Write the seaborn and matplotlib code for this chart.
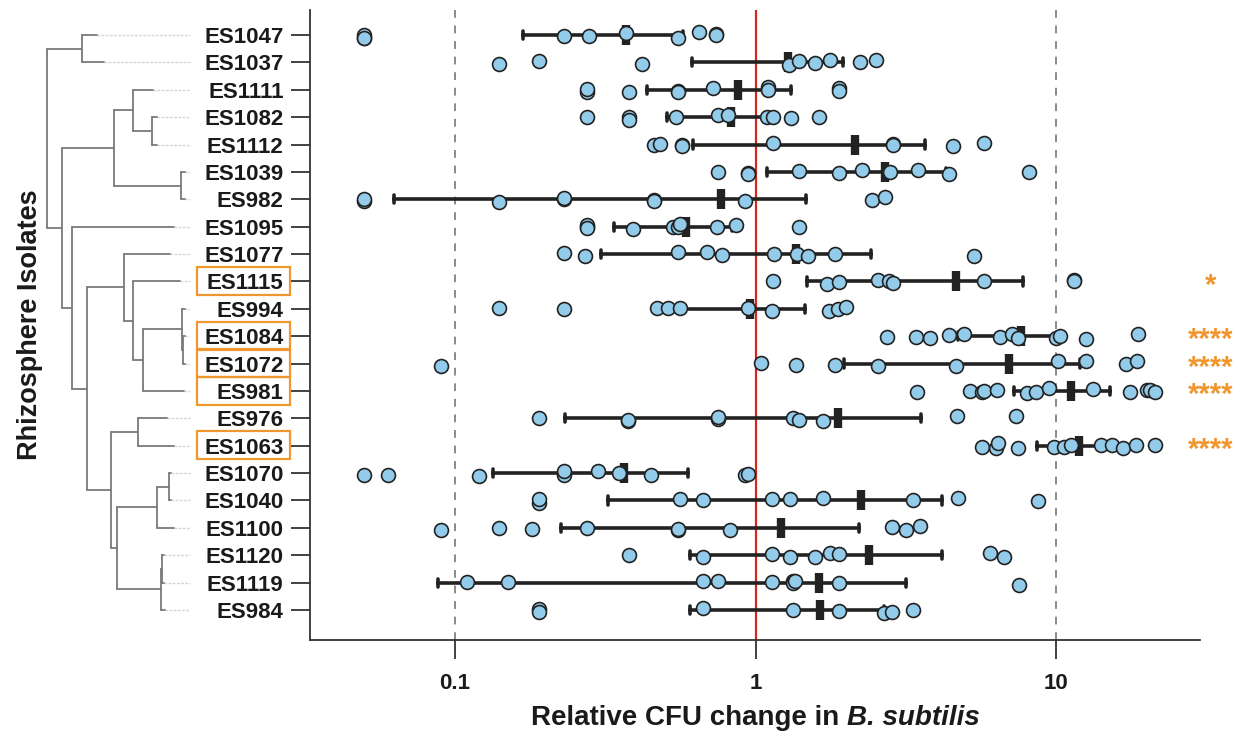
import numpy as np
import pandas as pd
import seaborn as sns
import matplotlib.pyplot as plt
from matplotlib import transforms
from matplotlib.patches import Rectangle
from matplotlib.ticker import FixedLocator, NullLocator

# isolates, top to bottom (dendrogram leaf order)
isolates = ["ES1047", "ES1037", "ES1111", "ES1082", "ES1112", "ES1039", "ES982",
            "ES1095", "ES1077", "ES1115", "ES994", "ES1084", "ES1072", "ES981",
            "ES976", "ES1063", "ES1070", "ES1040", "ES1100", "ES1120", "ES1119", "ES984"]

# relative CFU change of B. subtilis, one list per isolate
es1047 = [0.05, 0.05, 0.05, 0.23, 0.28, 0.37, 0.55, 0.65, 0.74, 0.74]
es1037 = [0.14, 0.19, 0.42, 1.29, 1.39, 1.58, 1.77, 2.23, 2.51]
es1111 = [0.275, 0.275, 0.38, 0.55, 0.55, 0.72, 1.1, 1.1, 1.89, 1.89]
es1082 = [0.275, 0.38, 0.38, 0.545, 0.75, 0.81, 1.09, 1.14, 1.31, 1.63]
es1112 = [0.46, 0.48, 0.57, 0.57, 1.14, 2.87, 2.87, 4.52, 5.75]
es1039 = [0.75, 0.94, 0.94, 1.39, 1.89, 2.26, 2.8, 3.47, 4.38, 8.1]
es982 = [0.05, 0.05, 0.14, 0.23, 0.23, 0.46, 0.46, 0.92, 2.44, 2.7]
es1095 = [0.275, 0.275, 0.275, 0.39, 0.53, 0.55, 0.56, 0.745, 0.86, 1.39]
es1077 = [0.23, 0.27, 0.55, 0.69, 0.77, 1.15, 1.37, 1.49, 1.83, 5.31]
es1115 = [1.14, 1.72, 1.89, 2.56, 2.77, 2.87, 5.75, 11.46, 11.46]
es994 = [0.14, 0.23, 0.47, 0.51, 0.56, 0.94, 1.13, 1.75, 1.88, 1.99]
es1084 = [2.74, 3.41, 3.81, 4.38, 4.93, 6.47, 7.09, 7.45, 10.0, 10.27, 12.54, 18.66]
es1072 = [0.09, 1.04, 1.36, 1.83, 2.55, 4.62, 10.13, 12.54, 17.09, 18.5]
es981 = [3.45, 5.17, 5.67, 5.75, 6.34, 7.99, 8.58, 9.45, 13.27, 17.5, 19.99, 20.5, 21.2]
es976 = [0.19, 0.377, 0.377, 0.752, 0.752, 1.33, 1.39, 1.67, 4.67, 7.33]
es1063 = [5.64, 6.3, 6.41, 7.45, 9.8, 10.6, 11.2, 14.1, 15.3, 16.6, 18.4, 21.2]
es1070 = [0.05, 0.06, 0.12, 0.23, 0.23, 0.30, 0.35, 0.45, 0.92, 0.94]
es1040 = [0.19, 0.19, 0.56, 0.67, 1.13, 1.30, 1.67, 3.34, 4.71, 8.69]
es1100 = [0.09, 0.14, 0.18, 0.275, 0.55, 0.55, 0.82, 2.83, 3.16, 3.52]
es1120 = [0.38, 0.67, 1.13, 1.30, 1.58, 1.76, 1.89, 6.01, 6.69]
es1119 = [0.11, 0.15, 0.67, 0.75, 1.13, 1.33, 1.33, 1.35, 1.89, 7.52]
es984 = [0.19, 0.19, 0.67, 1.33, 1.89, 2.67, 2.83, 3.34]

all_values = [es1047, es1037, es1111, es1082, es1112, es1039, es982, es1095, es1077,
              es1115, es994, es1084, es1072, es981, es976, es1063, es1070, es1040,
              es1100, es1120, es1119, es984]

# significance marks and highlighted isolates
stars = {"ES1115": "*", "ES1084": "****", "ES1072": "****", "ES981": "****", "ES1063": "****"}
boxed = ["ES1115", "ES1084", "ES1072", "ES981", "ES1063"]

# dendrogram: ("node", depth, children) or (leaf, tip depth)
tree = ("node", 0, [
    ("node", 35, [("ES1047", 50), ("ES1037", 57)]),
    ("node", 15, [
        ("node", 67, [
            ("node", 86, [("ES1111", 106),
                          ("node", 105, [("ES1082", 110), ("ES1112", 110)])]),
            ("node", 134, [("ES1039", 138), ("ES982", 138)]),
        ]),
        ("node", 25, [
            ("ES1095", 127),
            ("node", 40, [
                ("node", 77, [
                    ("ES1077", 123),
                    ("node", 86, [
                        ("ES1115", 133),
                        ("node", 96, [
                            ("node", 135, [("ES994", 138),
                                           ("node", 136, [("ES1084", 138), ("ES1072", 138)])]),
                            ("ES981", 137),
                        ]),
                    ]),
                ]),
                ("node", 64, [
                    ("node", 91, [("ES976", 120), ("ES1063", 127)]),
                    ("node", 70, [
                        ("node", 110, [("node", 122, [("ES1070", 124), ("ES1040", 124)]),
                                       ("ES1100", 127)]),
                        ("node", 114, [("node", 115, [("ES1120", 117), ("ES1119", 117)]),
                                       ("ES984", 118)]),
                    ]),
                ]),
            ]),
        ]),
    ]),
])

df = pd.DataFrame({
    "isolate": [iso for iso, vals in zip(isolates, all_values) for _ in vals],
    "cfu": [v for vals in all_values for v in vals],
})

T975 = {6: 2.447, 7: 2.365, 8: 2.306, 9: 2.262, 10: 2.228, 11: 2.201, 12: 2.179, 13: 2.160}


def t_ci(x):
    x = np.asarray(x, dtype=float)
    m = x.mean()
    half = T975[len(x) - 1] * x.std(ddof=1) / np.sqrt(len(x))
    return m - half, m + half


sns.set_style("ticks")
plt.rcParams["font.family"] = ["Liberation Sans", "DejaVu Sans"]

ORANGE = "#F0962E"
W, H = 1248, 733
fig = plt.figure(figsize=(W / 100, H / 100), dpi=100)
ax = fig.add_axes([310 / W, 93 / H, 890 / W, 630 / H])
ax_tree = fig.add_axes([0, 93 / H, 310 / W, 630 / H])

np.random.seed(4)
sns.stripplot(data=df, x="cfu", y="isolate", order=isolates, ax=ax, jitter=0.1,
              size=10, color="#93CCEA", edgecolor="#222222", linewidth=1.2)
sns.pointplot(data=df, x="cfu", y="isolate", order=isolates, ax=ax,
              estimator="mean", errorbar=t_ci, color="#222222",
              markers="|", linestyles="none", markersize=14, markeredgewidth=6,
              capsize=0.3, err_kws={"linewidth": 2.6})

ax.axvline(1, color="#D9261C", lw=1.6, zorder=0.5)
for v in (0.1, 10):
    ax.axvline(v, color="#8a8a8a", lw=1.4, ls=(0, (4, 4)), zorder=0.5)

ax.set_xscale("log")
ax.set_xlim(0.033, 30)
row_px = 575 / 21
ax.set_ylim(21 + 30 / row_px, -25 / row_px)
ax.xaxis.set_major_locator(FixedLocator([0.1, 1, 10]))
ax.xaxis.set_minor_locator(NullLocator())
ax.set_xticklabels(["0.1", "1", "10"])
ax.set_xlabel("")
ax.set_ylabel("")
sns.despine(ax=ax)
for s in ("left", "bottom"):
    ax.spines[s].set_color("#333333")
    ax.spines[s].set_linewidth(1.3)
ax.tick_params(axis="both", length=14, width=1.3, color="#333333")
ax.tick_params(axis="y", pad=5, labelsize=16)
ax.tick_params(axis="x", pad=10, labelsize=16)
for lab in ax.get_xticklabels() + ax.get_yticklabels():
    lab.set_fontweight("bold")
    lab.set_color("#1a1a1a")

# highlight boxes and significance stars
fig_y = transforms.blended_transform_factory(fig.transFigure, ax.transData)
for iso in boxed:
    i = isolates.index(iso)
    ax.add_patch(Rectangle((197 / W, i - 0.52), 93 / W, 1.02, transform=fig_y,
                           fill=False, ec=ORANGE, lw=1.6, clip_on=False))
for iso, s in stars.items():
    ax.text(1211 / W, isolates.index(iso) + 0.15, s, transform=fig_y, ha="center",
            va="center", fontsize=21, fontweight="bold", color=ORANGE)


# dendrogram
def draw(node, parent_depth):
    if len(node) == 3:
        _, depth, children = node
        ys = [draw(c, depth) for c in children]
        ax_tree.plot([depth, depth], [min(ys), max(ys)], color="#7a7a7a", lw=1.3)
        y = (min(ys) + max(ys)) / 2
    else:
        name, depth = node
        y = isolates.index(name)
        ax_tree.plot([depth, 143], [y, y], color="#d5d5d5", lw=1.0, ls=(0, (2, 1)))
    ax_tree.plot([parent_depth, depth], [y, y], color="#7a7a7a", lw=1.3)
    return y


draw(tree, tree[1])
ax_tree.set_xlim(-47, 263)
ax_tree.set_ylim(ax.get_ylim())
ax_tree.axis("off")

# axis titles
fig.text(30 / W, 1 - 325 / H, "Rhizosphere Isolates", rotation=90, ha="center",
         va="center", fontsize=19.5, fontweight="bold", color="#1a1a1a")
r = fig.canvas.get_renderer()
t1 = fig.text(0, 8 / H, "Relative CFU change in ", fontsize=20, fontweight="bold",
              color="#1a1a1a", va="baseline")
t2 = fig.text(0, 8 / H, "B. subtilis", fontsize=20, fontweight="bold",
              fontstyle="italic", color="#1a1a1a", va="baseline")
w1 = t1.get_window_extent(r).width
w2 = t2.get_window_extent(r).width
x0 = 755 - (w1 + w2) / 2
t1.set_x(x0 / W)
t2.set_x((x0 + w1) / W)

fig.savefig("out.png", dpi=100)
